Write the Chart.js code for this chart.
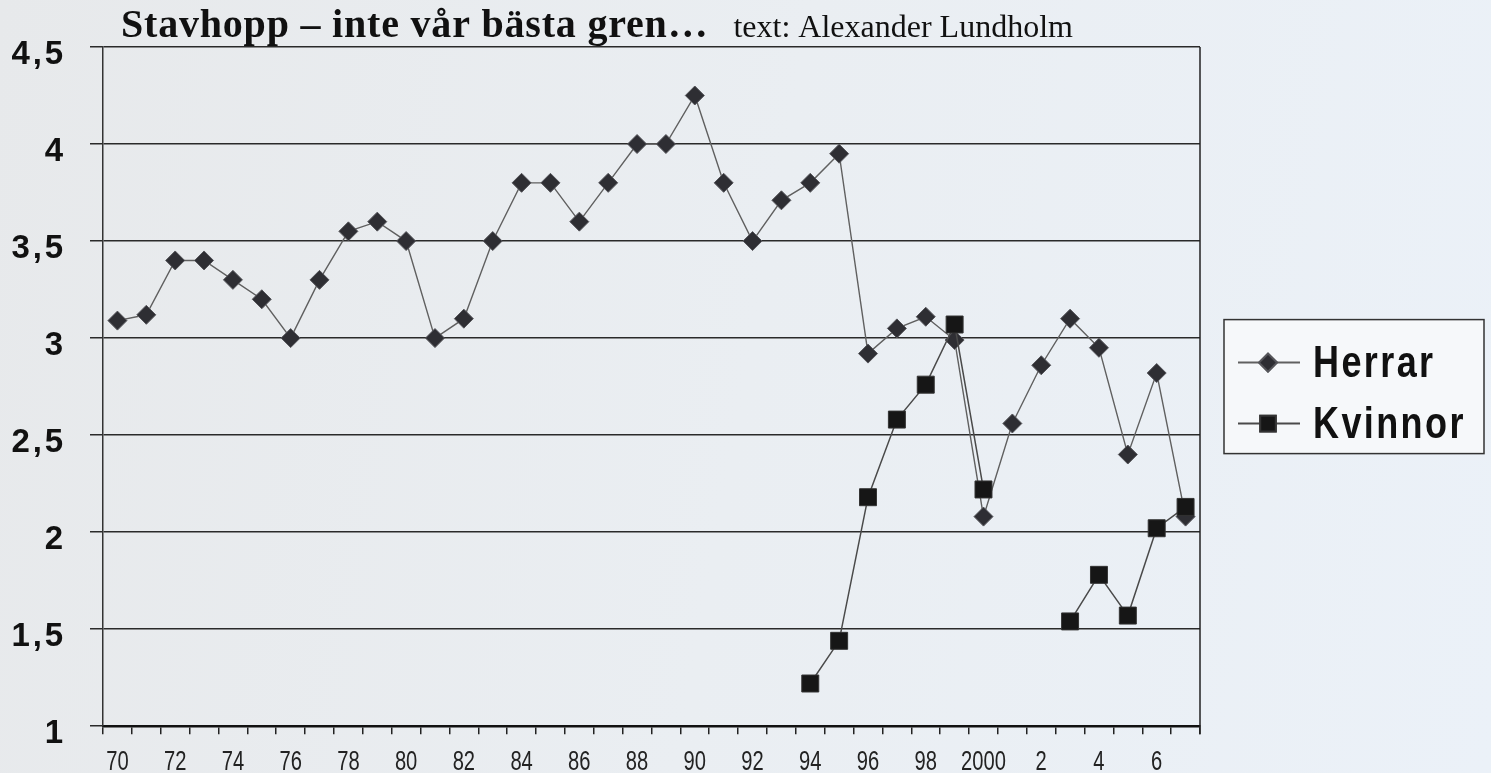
<!DOCTYPE html>
<html lang="sv">
<head>
    <meta charset="UTF-8">
    <title>Stavhopp</title>
    <script src="https://cdn.jsdelivr.net/npm/chart.js"></script>
    <style>
        body { margin: 0; background: linear-gradient(100deg, #e7e9eb 0%, #eaeef2 50%, #ebf1f8 100%); }
        canvas { display: block; }
    </style>
</head>
<body>
    <canvas id="stavChart" width="1491" height="773"></canvas>
    <script>
        const years = [1970, 1971, 1972, 1973, 1974, 1975, 1976, 1977, 1978, 1979,
                       1980, 1981, 1982, 1983, 1984, 1985, 1986, 1987, 1988, 1989,
                       1990, 1991, 1992, 1993, 1994, 1995, 1996, 1997, 1998, 1999,
                       2000, 2001, 2002, 2003, 2004, 2005, 2006, 2007];
        const herrar = [3.09, 3.12, 3.40, 3.40, 3.30, 3.20, 3.00, 3.30, 3.55, 3.60,
                        3.50, 3.00, 3.10, 3.50, 3.80, 3.80, 3.60, 3.80, 4.00, 4.00,
                        4.25, 3.80, 3.50, 3.71, 3.80, 3.95, 2.92, 3.05, 3.11, 2.99,
                        2.08, 2.56, 2.86, 3.10, 2.95, 2.40, 2.82, 2.08];
        const kvinnor = [null, null, null, null, null, null, null, null, null, null,
                         null, null, null, null, null, null, null, null, null, null,
                         null, null, null, null, 1.22, 1.44, 2.18, 2.58, 2.76, 3.07,
                         2.22, null, null, 1.54, 1.78, 1.57, 2.02, 2.13];
        const yTicks = [1, 1.5, 2, 2.5, 3, 3.5, 4, 4.5];

        // year -> short label, every second year only
        function yearLabel(y) {
            if (y % 2 !== 0) return '';
            if (y === 2000) return '2000';
            return y > 2000 ? String(y - 2000) : String(y - 1900);
        }

        const sans = "'Liberation Sans', Arial, sans-serif";

        // title, x labels (condensed), right border and boxed legend
        const extras = {
            id: 'extras',
            afterDraw(chart) {
                const ctx = chart.ctx;
                const a = chart.chartArea;
                const xs = chart.scales.x;
                ctx.save();
                ctx.strokeStyle = '#222';
                ctx.lineWidth = 1.5;
                ctx.beginPath();
                ctx.moveTo(a.right, a.top);
                ctx.lineTo(a.right, a.bottom + 8);
                ctx.stroke();

                // x labels, squeezed like the original narrow type
                ctx.fillStyle = '#222';
                ctx.font = '28px ' + sans;
                ctx.textAlign = 'center';
                ctx.textBaseline = 'middle';
                years.forEach((y, i) => {
                    const lab = yearLabel(y);
                    if (!lab) return;
                    ctx.save();
                    ctx.translate(xs.getPixelForValue(i), a.bottom + 36);
                    ctx.scale(0.72, 1);
                    ctx.fillText(lab, 0, 0);
                    ctx.restore();
                });

                ctx.textAlign = 'left';
                ctx.fillStyle = '#111';
                ctx.textBaseline = 'alphabetic';
                ctx.font = "bold 40px 'Liberation Serif', serif";
                ctx.letterSpacing = '0.8px';
                const t1 = 'Stavhopp – inte vår bästa gren…';
                ctx.fillText(t1, 121, 37);
                const w1 = ctx.measureText(t1).width;
                ctx.font = "32px 'Liberation Serif', serif";
                ctx.letterSpacing = '0px';
                ctx.fillText('text: Alexander Lundholm', 121 + w1 + 25, 37);

                // legend box
                const bx = a.right + 24, by = (a.top + a.bottom) / 2 - 67;
                ctx.fillStyle = '#f6f8fa';
                ctx.fillRect(bx, by, 260, 134);
                ctx.strokeStyle = '#333';
                ctx.lineWidth = 1.5;
                ctx.strokeRect(bx, by, 260, 134);
                chart.data.datasets.forEach((ds, i) => {
                    const cy = by + 43 + i * 61;
                    ctx.strokeStyle = ds.borderColor;
                    ctx.lineWidth = 2;
                    ctx.beginPath();
                    ctx.moveTo(bx + 14, cy);
                    ctx.lineTo(bx + 76, cy);
                    ctx.stroke();
                    Chart.helpers.drawPoint(ctx, {
                        pointStyle: ds.pointStyle,
                        radius: ds.pointStyle === 'rect' ? 11 : 9,
                        rotation: 0,
                        borderWidth: 1
                    }, bx + 44, cy);
                    ctx.fillStyle = ds.pointBackgroundColor;
                    ctx.strokeStyle = ds.pointBorderColor;
                    ctx.fill();
                    ctx.stroke();
                    ctx.save();
                    ctx.fillStyle = '#111';
                    ctx.font = 'bold 45px ' + sans;
                    ctx.letterSpacing = '3px';
                    ctx.textBaseline = 'middle';
                    ctx.translate(bx + 89, cy + 2);
                    ctx.scale(0.8, 1);
                    ctx.fillText(ds.label, 0, 0);
                    ctx.restore();
                });
                ctx.restore();
            }
        };

        new Chart(document.getElementById('stavChart'), {
            type: 'line',
            data: {
                labels: years,
                datasets: [
                    {
                        label: 'Herrar',
                        data: herrar,
                        order: 1,
                        borderColor: '#606060',
                        borderWidth: 1.4,
                        pointStyle: 'rectRot',
                        pointRadius: 9.5,
                        pointBackgroundColor: '#2e2e33',
                        pointBorderColor: '#55555a',
                        pointBorderWidth: 1,
                        tension: 0,
                        spanGaps: false
                    },
                    {
                        label: 'Kvinnor',
                        data: kvinnor,
                        order: 0,
                        borderColor: '#4a4a4a',
                        borderWidth: 1.5,
                        pointStyle: 'rect',
                        pointRadius: 12,
                        pointBackgroundColor: '#161616',
                        pointBorderColor: '#333',
                        pointBorderWidth: 1,
                        tension: 0,
                        spanGaps: false
                    }
                ]
            },
            options: {
                responsive: false,
                animation: false,
                layout: { padding: { top: 47, right: 291, left: 0, bottom: 0 } },
                plugins: {
                    legend: { display: false },
                    tooltip: { enabled: false }
                },
                scales: {
                    x: {
                        offset: true,
                        afterFit(scale) { scale.height = 45; },
                        grid: {
                            offset: true,
                            drawOnChartArea: false,
                            drawTicks: true,
                            tickLength: 8,
                            color: '#222',
                            lineWidth: 1.5
                        },
                        border: { display: true, color: '#111', width: 2.5 },
                        ticks: {
                            display: false,
                            autoSkip: false,
                            maxRotation: 0,
                            callback: function(value, index) { return yearLabel(years[index]); }
                        }
                    },
                    y: {
                        min: 1,
                        max: 4.5,
                        afterFit(scale) { scale.width = 103; },
                        afterBuildTicks(scale) { scale.ticks = yTicks.map(v => ({ value: v })); },
                        grid: {
                            color: '#2a2a2a',
                            lineWidth: 1.5,
                            tickLength: 13
                        },
                        border: { display: true, color: '#333', width: 1.5 },
                        ticks: {
                            padding: 27,
                            labelOffset: 8,
                            color: '#111',
                            font: { family: sans, size: 33, weight: 'bold' },
                            callback: function(value) { return String(value).replace('.', '\u200A,\u200A'); }
                        }
                    }
                }
            },
            plugins: [extras]
        });
    </script>
</body>
</html>
